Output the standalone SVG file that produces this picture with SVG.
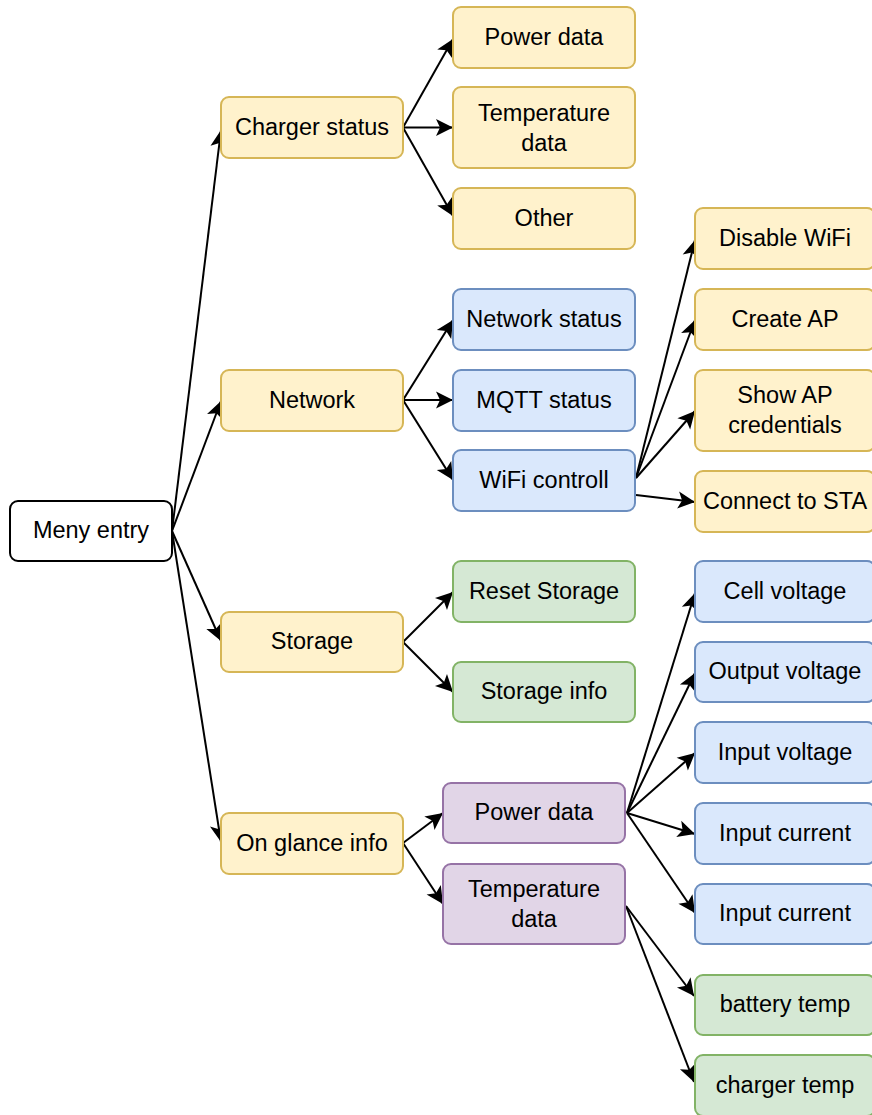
<svg xmlns="http://www.w3.org/2000/svg" width="872" height="1115" viewBox="0 0 872 1115">
<style>
.n rect{stroke-width:2}
.y rect{fill:#fff2cc;stroke:#d6b656}
.b rect{fill:#dae8fc;stroke:#6c8ebf}
.g rect{fill:#d5e8d4;stroke:#82b366}
.p rect{fill:#e1d5e7;stroke:#9673a6}
.w rect{fill:#ffffff;stroke:#000000}
text{font-family:"Liberation Sans",Arial,sans-serif;font-size:23.5px;fill:#000;text-anchor:middle}
#edges line{stroke:#000;stroke-width:2;marker-end:url(#arr)}
</style>
<defs>
<marker id="arr" markerUnits="userSpaceOnUse" viewBox="-19 -10 20 20" refX="0" refY="0" markerWidth="20" markerHeight="20" orient="auto">
<path d="M0,0 L-17,-8.5 L-13,0 L-17,8.5 Z" fill="#000"/>
</marker>
</defs>
<rect width="872" height="1115" fill="#fff"/>
<g id="edges">
<line x1="172" y1="531" x2="221" y2="130"/>
<line x1="172" y1="531" x2="221" y2="401"/>
<line x1="172" y1="531" x2="221" y2="641"/>
<line x1="172" y1="531" x2="221" y2="842"/>
<line x1="403" y1="127.5" x2="453" y2="39"/>
<line x1="403" y1="127.5" x2="453" y2="127.5"/>
<line x1="403" y1="127.5" x2="453" y2="216"/>
<line x1="403" y1="400" x2="453" y2="320"/>
<line x1="403" y1="400" x2="453" y2="400"/>
<line x1="403" y1="400" x2="453" y2="480"/>
<line x1="636" y1="478" x2="695" y2="240"/>
<line x1="636" y1="478" x2="695" y2="320"/>
<line x1="636" y1="478" x2="695" y2="411"/>
<line x1="636" y1="495" x2="695" y2="502"/>
<line x1="403" y1="642" x2="453" y2="592"/>
<line x1="403" y1="642" x2="453" y2="692"/>
<line x1="403" y1="843" x2="443" y2="813"/>
<line x1="403" y1="843" x2="443" y2="904"/>
<line x1="627" y1="813" x2="695" y2="593"/>
<line x1="627" y1="813" x2="695" y2="673"/>
<line x1="627" y1="813" x2="695" y2="753"/>
<line x1="627" y1="813" x2="695" y2="834"/>
<line x1="627" y1="813" x2="695" y2="913"/>
<line x1="626" y1="906" x2="694" y2="996"/>
<line x1="626" y1="906" x2="694" y2="1082"/>
</g>
<g id="meny-entry" class="n w"><rect x="10" y="501" width="162" height="60" rx="8"/><text x="91" y="538">Meny entry</text></g>
<g id="charger-status" class="n y"><rect x="221" y="97" width="182" height="61" rx="8"/><text x="312" y="135">Charger status</text></g>
<g id="power-data-1" class="n y"><rect x="453" y="7" width="182" height="61" rx="8"/><text x="544" y="45">Power data</text></g>
<g id="temperature-data-1" class="n y"><rect x="453" y="87" width="182" height="81" rx="8"/><text x="544" y="121">Temperature</text><text x="544" y="151">data</text></g>
<g id="other" class="n y"><rect x="453" y="188" width="182" height="61" rx="8"/><text x="544" y="226">Other</text></g>
<g id="network" class="n y"><rect x="221" y="370" width="182" height="61" rx="8"/><text x="312" y="408">Network</text></g>
<g id="network-status" class="n b"><rect x="453" y="289" width="182" height="61" rx="8"/><text x="544" y="327">Network status</text></g>
<g id="mqtt-status" class="n b"><rect x="453" y="370" width="182" height="61" rx="8"/><text x="544" y="408">MQTT status</text></g>
<g id="wifi-controll" class="n b"><rect x="453" y="450" width="182" height="61" rx="8"/><text x="544" y="488">WiFi controll</text></g>
<g id="disable-wifi" class="n y"><rect x="695" y="208" width="180" height="61" rx="8"/><text x="785" y="246">Disable WiFi</text></g>
<g id="create-ap" class="n y"><rect x="695" y="289" width="180" height="61" rx="8"/><text x="785" y="327">Create AP</text></g>
<g id="show-ap-credentials" class="n y"><rect x="695" y="370" width="180" height="81" rx="8"/><text x="785" y="403">Show AP</text><text x="785" y="433">credentials</text></g>
<g id="connect-to-sta" class="n y"><rect x="695" y="471" width="180" height="61" rx="8"/><text x="785" y="509">Connect to STA</text></g>
<g id="storage" class="n y"><rect x="221" y="612" width="182" height="60" rx="8"/><text x="312" y="649">Storage</text></g>
<g id="reset-storage" class="n g"><rect x="453" y="561" width="182" height="61" rx="8"/><text x="544" y="599">Reset Storage</text></g>
<g id="storage-info" class="n g"><rect x="453" y="662" width="182" height="60" rx="8"/><text x="544" y="699">Storage info</text></g>
<g id="on-glance-info" class="n y"><rect x="221" y="813" width="182" height="61" rx="8"/><text x="312" y="851">On glance info</text></g>
<g id="power-data-2" class="n p"><rect x="443" y="783" width="182" height="60" rx="8"/><text x="534" y="820">Power data</text></g>
<g id="temperature-data-2" class="n p"><rect x="443" y="864" width="182" height="80" rx="8"/><text x="534" y="897">Temperature</text><text x="534" y="927">data</text></g>
<g id="cell-voltage" class="n b"><rect x="695" y="561" width="180" height="61" rx="8"/><text x="785" y="599">Cell voltage</text></g>
<g id="output-voltage" class="n b"><rect x="695" y="642" width="180" height="60" rx="8"/><text x="785" y="679">Output voltage</text></g>
<g id="input-voltage" class="n b"><rect x="695" y="722" width="180" height="61" rx="8"/><text x="785" y="760">Input voltage</text></g>
<g id="input-current-1" class="n b"><rect x="695" y="803" width="180" height="61" rx="8"/><text x="785" y="841">Input current</text></g>
<g id="input-current-2" class="n b"><rect x="695" y="884" width="180" height="60" rx="8"/><text x="785" y="921">Input current</text></g>
<g id="battery-temp" class="n g"><rect x="695" y="975" width="180" height="60" rx="8"/><text x="785" y="1012">battery temp</text></g>
<g id="charger-temp" class="n g"><rect x="695" y="1055" width="180" height="61" rx="8"/><text x="785" y="1093">charger temp</text></g>
</svg>
